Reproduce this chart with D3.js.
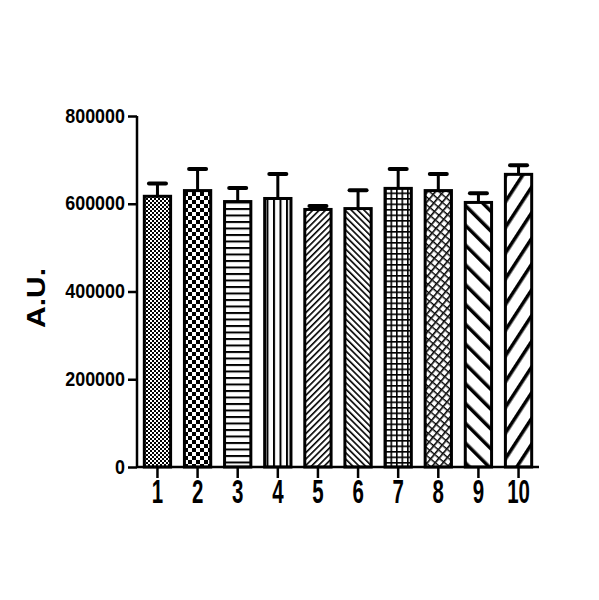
<!DOCTYPE html>
<html>
<head>
  <meta charset="utf-8">
  <script src="https://d3js.org/d3.v7.min.js"></script>
  <style>
    body { margin: 0; background: #fff; }
    text { font-family: "Liberation Sans", Arial, sans-serif; font-weight: bold; fill: #000; }
  </style>
</head>
<body>
  <svg id="chart" width="599" height="600"></svg>
  <script>
    // values
    var groups = ["1", "2", "3", "4", "5", "6", "7", "8", "9", "10"];
    var means  = [617000, 630000, 605000, 612000, 587000, 589000, 635000, 630000, 603000, 667000];
    var errs   = [29000, 49000, 31000, 56000, 8000, 42000, 44000, 38000, 21000, 21000];
    var yTicks = [0, 200000, 400000, 600000, 800000];

    var svg = d3.select("#chart");
    var defs = svg.append("defs");

    // hatch patterns, one per bar
    function pat(id, w, h, tf) {
      var p = defs.append("pattern").attr("id", id)
        .attr("patternUnits", "userSpaceOnUse")
        .attr("width", w).attr("height", h);
      if (tf) p.attr("patternTransform", tf);
      p.append("rect").attr("width", w).attr("height", h).attr("fill", "#fff");
      return p;
    }
    var p;
    p = pat("p1", 4, 4);
    p.append("rect").attr("width", 2).attr("height", 2);
    p.append("rect").attr("x", 2).attr("y", 2).attr("width", 2).attr("height", 2);
    p = pat("p2", 8, 8);
    p.append("rect").attr("width", 4).attr("height", 4);
    p.append("rect").attr("x", 4).attr("y", 4).attr("width", 4).attr("height", 4);
    p = pat("p3", 10, 6.5);
    p.append("rect").attr("width", 10).attr("height", 2);
    p = pat("p4", 6.5, 10);
    p.append("rect").attr("width", 2).attr("height", 10);
    p = pat("p5", 4.5, 10, "rotate(45)");
    p.append("rect").attr("width", 1.6).attr("height", 10);
    p = pat("p6", 4.5, 10, "rotate(-45)");
    p.append("rect").attr("width", 1.6).attr("height", 10);
    p = pat("p7", 5.5, 5.5);
    p.append("rect").attr("width", 1.6).attr("height", 5.5);
    p.append("rect").attr("width", 5.5).attr("height", 1.6);
    p = pat("p8", 6, 6, "rotate(40)");
    p.append("rect").attr("width", 1.6).attr("height", 6);
    p.append("rect").attr("x", 1.6).attr("y", 2).attr("width", 4.4).attr("height", 1.4);
    p = pat("p9", 14, 20, "rotate(-45)");
    p.append("rect").attr("width", 3.5).attr("height", 20);
    p = pat("p10", 14, 20, "rotate(33)");
    p.append("rect").attr("width", 3.5).attr("height", 20);

    var x = d3.scaleBand().domain(groups).range([138, 538])
      .paddingInner(0.27).paddingOuter(0.12);
    var y = d3.scaleLinear().domain([0, 800000]).range([467, 116]);

    var data = groups.map(function (g, i) { return { g: g, m: means[i], e: errs[i], i: i }; });

    // error bars (upper only), drawn before bars
    var eb = svg.append("g");
    eb.selectAll("line.stem").data(data).enter().append("line")
      .attr("x1", function (d) { return x(d.g) + x.bandwidth() / 2; })
      .attr("x2", function (d) { return x(d.g) + x.bandwidth() / 2; })
      .attr("y1", function (d) { return y(d.m); })
      .attr("y2", function (d) { return y(d.m + d.e); })
      .attr("stroke", "#000").attr("stroke-width", 3);
    eb.selectAll("line.cap").data(data).enter().append("line")
      .attr("x1", function (d) { return x(d.g) + x.bandwidth() / 2 - 8.5; })
      .attr("x2", function (d) { return x(d.g) + x.bandwidth() / 2 + 8.5; })
      .attr("y1", function (d) { return y(d.m + d.e); })
      .attr("y2", function (d) { return y(d.m + d.e); })
      .attr("stroke", "#000").attr("stroke-width", 4).attr("stroke-linecap", "round");

    svg.append("g").selectAll("rect").data(data).enter().append("rect")
      .attr("x", function (d) { return x(d.g) + 1.5; })
      .attr("width", x.bandwidth() - 3)
      .attr("y", function (d) { return y(d.m); })
      .attr("height", function (d) { return y(0) - y(d.m); })
      .attr("fill", function (d) { return "url(#p" + (d.i + 1) + ")"; })
      .attr("stroke", "#000").attr("stroke-width", 3);

    // axes
    var yAxis = svg.append("g").attr("transform", "translate(137,0)")
      .call(d3.axisLeft(y).tickValues(yTicks).tickFormat(d3.format("d")).tickSize(9).tickPadding(3));
    var xAxis = svg.append("g").attr("transform", "translate(0,467)")
      .call(d3.axisBottom(x).tickSize(11).tickPadding(2));
    [yAxis, xAxis].forEach(function (a) {
      a.select(".domain").attr("stroke", "#000").attr("stroke-width", 2.5);
      a.selectAll(".tick line").attr("stroke", "#000").attr("stroke-width", 2.5);
    });
    xAxis.select(".domain").attr("d", "M137,0H539");
    yAxis.select(".domain").attr("d", "M0,116V467");

    yAxis.selectAll(".tick text")
      .attr("font-size", 19.5)
      .attr("transform", function () {
        var xx = +d3.select(this).attr("x");
        return "translate(" + xx + ",0) scale(0.92,1) translate(" + (-xx) + ",0)";
      });
    xAxis.selectAll(".tick text")
      .attr("font-size", 33)
      .attr("dy", "0.71em")
      .attr("transform", "scale(0.62,1)");

    svg.append("text")
      .attr("transform", "translate(45,298) rotate(-90) scale(1.2,1)")
      .attr("text-anchor", "middle")
      .attr("font-size", 25)
      .text("A.U.");
  </script>
</body>
</html>
